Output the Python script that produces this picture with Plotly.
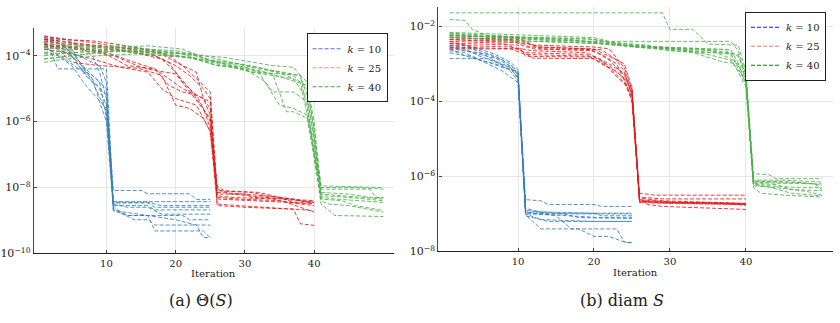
import plotly.graph_objects as go

# ---------------- data: each run = list of [iteration, log10(value)] knots ----------------
# Panel (a): Theta(S)
THETA_K10_PRE = [
    [[1,-3.4],[2,-3.45],[4,-3.5],[6,-3.7],[8,-4.0],[9,-4.5],[10,-5.3]],
    [[1,-3.5],[3,-3.6],[5,-3.9],[7,-4.4],[9,-4.8],[10,-5.9]],
    [[1,-3.6],[2,-3.9],[3,-4.4],[10,-4.4]],
    [[1,-3.7],[3,-3.8],[5,-4.0],[7,-4.6],[9,-5.0],[10,-5.5]],
    [[1,-3.5],[4,-3.7],[6,-4.3],[8,-4.8],[10,-5.7]],
    [[1,-3.8],[2,-3.85],[4,-4.1],[6,-4.4],[8,-4.6],[10,-5.0]],
    [[1,-3.55],[3,-3.7],[6,-4.2],[8,-4.7],[9,-5.4],[10,-6.0]],
    [[1,-3.65],[4,-3.8],[7,-4.1],[9,-4.3],[10,-4.8]],
    [[1,-3.45],[3,-3.55],[5,-3.8],[7,-4.5],[10,-5.2]],
    [[1,-3.9],[3,-4.0],[5,-4.3],[7,-4.9],[10,-5.6]],
]
THETA_K10_TAIL = [
    [[11,-8.09],[15,-8.09],[16,-8.19],[22,-8.19],[23,-8.36],[25,-8.36]],
    [[11,-8.43],[25,-8.43]],
    [[11,-8.47],[16,-8.47],[17,-8.60],[25,-8.60]],
    [[11,-8.55],[16,-8.55],[17,-8.68],[25,-8.68]],
    [[11,-8.5],[13,-8.6],[16,-8.6],[18,-8.81],[25,-8.81]],
    [[11,-8.6],[13,-8.85],[21,-8.85],[22,-8.98],[25,-8.98]],
    [[11,-8.65],[14,-8.98],[16,-8.98],[17,-9.14],[25,-9.14]],
    [[11,-8.7],[13,-8.85],[16,-8.85],[17,-9.32],[24,-9.32],[25,-9.52]],
    [[11,-8.45],[16,-8.45],[18,-8.55],[25,-8.55]],
    [[11,-8.7],[16,-8.85],[20,-8.98],[23,-9.14],[24,-9.52],[25,-9.52]],
]
THETA_K25_PRE = [
    [[1,-3.4],[4,-3.5],[8,-3.6],[12,-3.75],[16,-3.9],[19,-4.2],[21,-4.8],[23,-5.2],[25,-6.0]],
    [[1,-3.5],[3,-3.55],[7,-3.7],[11,-3.8],[15,-3.95],[18,-4.1],[20,-4.5],[22,-5.0],[24,-5.6],[25,-6.2]],
    [[1,-3.6],[3,-3.8],[5,-4.2],[9,-4.3],[13,-4.35],[15,-4.4],[18,-4.6],[20,-5.5],[22,-5.6],[24,-5.9],[25,-6.3]],
    [[1,-3.55],[4,-3.65],[9,-3.7],[13,-3.85],[17,-4.0],[20,-4.3],[22,-4.6],[24,-5.0],[25,-5.3]],
    [[1,-3.7],[5,-3.75],[10,-3.9],[14,-4.2],[17,-4.4],[19,-4.9],[21,-5.1],[23,-5.2],[25,-5.4]],
    [[1,-3.45],[3,-3.5],[8,-3.55],[13,-3.7],[17,-3.85],[19,-4.0],[21,-4.3],[23,-4.7],[24,-4.9],[25,-5.1]],
    [[1,-3.8],[4,-3.9],[8,-4.1],[12,-4.35],[16,-4.5],[18,-5.0],[20,-5.3],[23,-5.5],[25,-6.3]],
    [[1,-3.65],[4,-3.7],[9,-3.85],[13,-4.3],[17,-4.4],[19,-4.7],[21,-5.0],[24,-5.3],[25,-5.8]],
    [[1,-3.5],[5,-3.6],[11,-3.75],[15,-3.8],[18,-3.95],[20,-4.2],[23,-4.5],[24,-5.3],[25,-5.6]],
    [[1,-3.75],[3,-3.7],[7,-3.85],[11,-4.0],[15,-4.35],[17,-4.45],[20,-4.55],[22,-5.1],[25,-5.9]],
]
THETA_K25_TAIL = [
    [[26,-7.95],[27,-8.1],[32,-8.15],[35,-8.3],[40,-8.45]],
    [[26,-8.1],[31,-8.15],[33,-8.25],[37,-8.35],[40,-8.5]],
    [[26,-8.2],[30,-8.2],[31,-8.3],[36,-8.35],[40,-8.4]],
    [[26,-8.25],[28,-8.3],[34,-8.35],[36,-8.45],[40,-8.5]],
    [[26,-8.3],[29,-8.35],[35,-8.4],[38,-8.5],[40,-8.55]],
    [[26,-8.15],[30,-8.2],[35,-8.3],[37,-8.45],[40,-8.45]],
    [[26,-8.5],[29,-8.55],[33,-8.6],[37,-8.65],[40,-8.7]],
    [[26,-8.55],[30,-8.6],[36,-8.65],[37,-8.65],[38,-9.1],[40,-9.15]],
    [[26,-8.35],[32,-8.4],[36,-8.45],[38,-8.6],[40,-8.75]],
    [[26,-8.05],[28,-8.2],[33,-8.3],[38,-8.4],[40,-8.45]],
]
THETA_K40_PRE = [
    [[1,-3.9],[4,-3.85],[8,-3.75],[12,-3.7],[16,-3.8],[20,-3.9],[24,-4.0],[28,-4.2],[32,-4.4],[35,-4.5],[37,-4.6],[39,-5.0],[40,-6.2]],
    [[1,-4.1],[3,-4.05],[7,-3.95],[11,-3.85],[15,-3.85],[19,-3.95],[23,-4.1],[27,-4.25],[31,-4.5],[34,-4.6],[37,-4.7],[39,-5.3],[40,-6.6]],
    [[1,-3.7],[5,-3.7],[9,-3.8],[13,-3.85],[18,-3.95],[22,-4.05],[26,-4.3],[30,-4.35],[32,-4.5],[35,-5.5],[37,-5.6],[39,-5.8],[40,-7.0]],
    [[1,-4.2],[4,-4.1],[9,-4.0],[14,-3.95],[19,-4.0],[24,-4.1],[28,-4.2],[32,-4.35],[36,-4.6],[38,-4.8],[40,-6.8]],
    [[1,-3.8],[3,-3.75],[7,-3.7],[11,-3.75],[16,-3.7],[21,-3.8],[25,-4.15],[29,-4.3],[33,-4.5],[36,-4.7],[39,-4.9],[40,-6.0]],
    [[1,-4.0],[5,-3.9],[10,-3.85],[14,-3.9],[18,-4.0],[22,-4.05],[26,-4.3],[30,-4.4],[33,-4.8],[34,-5.1],[37,-5.1],[39,-5.4],[40,-7.1]],
    [[1,-3.6],[4,-3.65],[8,-3.7],[13,-3.75],[17,-3.85],[21,-3.95],[25,-4.2],[28,-4.35],[31,-4.5],[35,-4.55],[38,-4.6],[39,-4.8],[40,-6.4]],
    [[1,-3.95],[6,-3.9],[11,-3.8],[16,-3.8],[20,-3.85],[24,-4.0],[27,-4.05],[31,-4.2],[34,-4.3],[37,-4.35],[38,-4.6],[39,-5.6],[40,-6.9]],
    [[1,-4.1],[5,-4.0],[9,-3.9],[14,-3.85],[19,-3.9],[23,-4.0],[27,-4.25],[31,-4.45],[34,-4.55],[36,-5.7],[37,-5.7],[39,-5.9],[40,-7.05]],
    [[1,-3.75],[4,-3.8],[8,-3.8],[12,-3.85],[17,-3.9],[22,-3.95],[26,-4.2],[29,-4.25],[33,-4.4],[37,-4.55],[38,-4.6],[39,-5.2],[40,-6.5]],
]
THETA_K40_TAIL = [
    [[41,-7.95],[50,-8.0]],
    [[41,-8.0],[46,-8.0],[50,-8.05]],
    [[41,-8.05],[48,-8.05],[49,-8.3],[50,-8.3]],
    [[41,-8.2],[44,-8.25],[47,-8.3],[50,-8.35]],
    [[41,-8.25],[45,-8.3],[48,-8.35],[50,-8.4]],
    [[41,-8.3],[43,-8.35],[46,-8.4],[50,-8.45]],
    [[41,-8.35],[44,-8.4],[46,-8.55],[50,-8.7]],
    [[41,-8.4],[42,-8.5],[45,-8.55],[50,-8.75]],
    [[41,-8.5],[43,-8.85],[50,-8.88]],
    [[41,-8.15],[45,-8.2],[48,-8.3],[50,-8.3]],
]

# Panel (b): diam S
DIAM_K10_PRE = [
    [[1,-2.45],[3,-2.5],[5,-2.65],[7,-2.8],[9,-3.0],[10,-3.3]],
    [[1,-2.55],[3,-2.6],[5,-2.8],[7,-2.95],[9,-3.1],[10,-3.4]],
    [[1,-2.86],[6,-2.86],[8,-3.0],[9,-3.1],[10,-3.25]],
    [[1,-2.6],[2,-2.7],[4,-2.85],[6,-2.95],[8,-3.1],[10,-3.2]],
    [[1,-2.5],[4,-2.6],[6,-2.8],[8,-3.05],[9,-3.2],[10,-3.45]],
    [[1,-2.65],[3,-2.7],[5,-2.9],[7,-3.0],[9,-3.15],[10,-3.35]],
    [[1,-2.4],[3,-2.5],[5,-2.6],[7,-2.75],[9,-2.95],[10,-3.15]],
    [[1,-2.7],[2,-2.75],[4,-2.8],[6,-3.0],[8,-3.2],[10,-3.5]],
    [[1,-2.55],[4,-2.7],[7,-2.85],[9,-3.05],[10,-3.2]],
    [[1,-2.6],[3,-2.65],[6,-2.75],[8,-2.9],[10,-3.3]],
]
DIAM_K10_TAIL = [
    [[11,-6.62],[13,-6.65],[14,-6.75],[20,-6.75],[21,-6.8],[25,-6.8]],
    [[11,-6.95],[14,-6.95],[15,-6.98],[25,-6.98]],
    [[11,-6.9],[13,-6.95],[20,-6.98],[21,-7.05],[25,-7.05]],
    [[11,-6.98],[16,-7.0],[18,-7.1],[25,-7.12]],
    [[11,-6.85],[12,-6.9],[14,-7.0],[25,-7.0]],
    [[11,-7.0],[13,-7.15],[20,-7.2],[25,-7.2]],
    [[11,-7.05],[12,-7.1],[14,-7.2],[25,-7.2]],
    [[11,-7.02],[13,-7.4],[18,-7.4],[20,-7.6],[22,-7.6],[24,-7.75],[25,-7.78]],
    [[11,-6.95],[15,-7.05],[17,-7.4],[23,-7.4],[24,-7.75],[25,-7.76]],
    [[11,-7.0],[14,-7.02],[21,-7.1],[25,-7.1]],
]
DIAM_K25_PRE = [
    [[1,-2.25],[10,-2.3],[12,-2.5],[20,-2.55],[22,-2.6],[24,-3.1],[25,-3.7]],
    [[1,-2.3],[9,-2.35],[11,-2.55],[19,-2.6],[21,-2.75],[23,-3.0],[25,-3.9]],
    [[1,-2.35],[10,-2.4],[12,-2.6],[20,-2.65],[22,-2.9],[24,-3.3],[25,-3.8]],
    [[1,-2.4],[8,-2.45],[11,-2.7],[19,-2.75],[21,-3.0],[23,-3.2],[25,-3.6]],
    [[1,-2.45],[10,-2.5],[11,-2.8],[20,-2.82],[22,-3.05],[24,-3.4],[25,-4.0]],
    [[1,-2.5],[9,-2.55],[12,-2.65],[19,-2.7],[21,-2.9],[23,-3.35],[25,-3.7]],
    [[1,-2.3],[10,-2.35],[13,-2.6],[21,-2.62],[23,-2.9],[24,-3.2],[25,-3.85]],
    [[1,-2.55],[10,-2.6],[12,-2.85],[20,-2.86],[22,-3.1],[24,-3.5],[25,-3.95]],
    [[1,-2.35],[11,-2.45],[13,-2.55],[20,-2.6],[22,-2.8],[24,-3.0],[25,-3.65]],
    [[1,-2.6],[9,-2.6],[11,-2.75],[20,-2.8],[22,-3.0],[24,-3.25],[25,-3.75]],
]
DIAM_K25_TAIL = [
    [[26,-6.45],[28,-6.5],[40,-6.5]],
    [[26,-6.55],[29,-6.6],[40,-6.6]],
    [[26,-6.62],[30,-6.68],[40,-6.72]],
    [[26,-6.65],[28,-6.7],[35,-6.72],[40,-6.75]],
    [[26,-6.6],[27,-6.75],[29,-6.8],[40,-6.88]],
    [[26,-6.68],[32,-6.7],[38,-6.72],[40,-6.78]],
    [[26,-6.7],[30,-6.72],[40,-6.75]],
    [[26,-6.58],[29,-6.65],[36,-6.7],[40,-6.72]],
    [[26,-6.66],[31,-6.7],[40,-6.73]],
    [[26,-6.64],[29,-6.68],[34,-6.7],[40,-6.74]],
]
DIAM_K40_PRE = [
    [[1,-1.64],[29,-1.64],[30,-2.08],[33,-2.08],[35,-2.47],[39,-2.5],[40,-3.2]],
    [[1,-1.82],[3,-1.84],[4,-2.08],[6,-2.25],[12,-2.3],[20,-2.35],[24,-2.5],[30,-2.6],[36,-2.65],[39,-2.75],[40,-3.4]],
    [[1,-2.16],[6,-2.2],[14,-2.25],[20,-2.3],[22,-2.4],[30,-2.4],[38,-2.4],[39,-2.65],[40,-3.3]],
    [[1,-2.2],[5,-2.25],[11,-2.3],[19,-2.32],[23,-2.45],[28,-2.55],[34,-2.6],[38,-2.75],[40,-3.5]],
    [[1,-2.25],[8,-2.28],[15,-2.35],[21,-2.42],[25,-2.55],[31,-2.62],[36,-2.7],[38,-2.85],[40,-3.6]],
    [[1,-2.22],[7,-2.3],[13,-2.35],[18,-2.4],[24,-2.5],[29,-2.55],[35,-2.75],[38,-2.9],[40,-3.45]],
    [[1,-2.28],[6,-2.35],[12,-2.4],[20,-2.45],[26,-2.55],[32,-2.6],[37,-2.62],[39,-2.8],[40,-3.25]],
    [[1,-2.3],[9,-2.38],[16,-2.42],[22,-2.48],[27,-2.58],[33,-2.7],[37,-2.95],[39,-3.0],[40,-3.55]],
    [[1,-2.18],[4,-2.22],[10,-2.28],[17,-2.35],[23,-2.5],[29,-2.55],[34,-2.58],[38,-2.62],[40,-3.35]],
    [[1,-2.24],[8,-2.3],[14,-2.38],[21,-2.4],[27,-2.5],[30,-2.65],[35,-2.7],[38,-2.72],[40,-3.4]],
]
DIAM_K40_TAIL = [
    [[41,-5.93],[43,-5.95],[44,-6.06],[50,-6.06]],
    [[41,-6.1],[45,-6.1],[48,-6.12],[50,-6.15]],
    [[41,-6.15],[44,-6.18],[50,-6.2]],
    [[41,-6.12],[46,-6.15],[49,-6.2],[50,-6.35]],
    [[41,-6.2],[43,-6.25],[47,-6.3],[50,-6.3]],
    [[41,-6.3],[42,-6.45],[45,-6.5],[50,-6.55]],
    [[41,-6.18],[44,-6.22],[46,-6.35],[50,-6.38]],
    [[41,-6.25],[44,-6.3],[48,-6.4],[50,-6.5]],
    [[41,-6.14],[47,-6.16],[49,-6.2],[50,-6.25]],
    [[41,-6.22],[43,-6.28],[46,-6.45],[50,-6.52]],
]

K_LABELS = ["<i>k</i> = 10", "<i>k</i> = 25", "<i>k</i> = 40"]
X_TICKS = [10, 20, 30, 40]
THETA_Y_TICKS = [-10, -8, -6, -4]
DIAM_Y_TICKS = [-8, -6, -4, -2]
CAPTIONS = ["(a) Θ(<i>S</i>)", "(b) diam <i>S</i>"]

LINE_COLORS = ["rgba(55,126,184,0.85)", "rgba(228,26,28,0.85)", "rgba(77,175,74,0.85)"]
LEG_COLORS_A = ["rgba(60,60,255,0.8)", "rgba(255,60,60,0.6)", "rgba(30,140,30,0.8)"]
LEG_COLORS_B = ["rgb(20,20,255)", "rgba(255,50,50,0.7)", "rgb(0,128,0)"]
SERIF = "DejaVu Serif"

panels = [
    [(THETA_K10_PRE, THETA_K10_TAIL), (THETA_K25_PRE, THETA_K25_TAIL), (THETA_K40_PRE, THETA_K40_TAIL)],
    [(DIAM_K10_PRE, DIAM_K10_TAIL), (DIAM_K25_PRE, DIAM_K25_TAIL), (DIAM_K40_PRE, DIAM_K40_TAIL)],
]

fig = go.Figure()
for pi, groups in enumerate(panels):
    xa = "x" if pi == 0 else "x2"
    ya = "y" if pi == 0 else "y2"
    leg = "legend" if pi == 0 else "legend2"
    for gi, (pre, tail) in enumerate(groups):
        xs, ys = [], []
        for a, b in zip(pre, tail):
            run = a + b
            xs += [p[0] for p in run] + [None]
            ys += [10 ** p[1] for p in run] + [None]
        fig.add_trace(go.Scatter(x=xs, y=ys, mode="lines", xaxis=xa, yaxis=ya,
                                 line=dict(color=LINE_COLORS[gi], width=1, dash="4px,2px"),
                                 showlegend=False, hoverinfo="skip"))
    legc = LEG_COLORS_A if pi == 0 else LEG_COLORS_B
    for gi in range(3):
        fig.add_trace(go.Scatter(x=[None], y=[None], mode="lines", xaxis=xa, yaxis=ya,
                                 name=K_LABELS[gi], legend=leg,
                                 line=dict(color=legc[gi], width=1, dash="4px,2px")))

W, H = 840, 323
def xdom(a, b): return [a / W, b / W]
def ydom(top, bot): return [1 - bot / H, 1 - top / H]

def sup(e):
    return "10<sup>−%d</sup>" % (-e)

common_x = dict(range=[-0.47, 51.47], tickvals=X_TICKS, ticktext=[str(v) for v in X_TICKS],
                showgrid=True, gridcolor="#e6e6e6", gridwidth=1, zeroline=False,
                showline=True, linecolor="#222", linewidth=1.3, ticks="inside", ticklen=3,
                tickcolor="#444", tickfont=dict(family=SERIF, size=10, color="#222"))
common_y = dict(type="log", showgrid=True, gridcolor="#e6e6e6", gridwidth=1, zeroline=False,
                showline=True, linecolor="#444", linewidth=1.3, ticks="inside", ticklen=3,
                tickcolor="#444", tickfont=dict(family=SERIF, size=11, color="#222"))

fig.update_layout(
    width=W, height=H, margin=dict(l=0, r=0, t=0, b=0),
    paper_bgcolor="white", plot_bgcolor="white",
    xaxis=dict(domain=xdom(33, 393), anchor="y", **common_x),
    yaxis=dict(domain=ydom(29, 259), anchor="x", range=[-10, -3.17],
               tickvals=[10 ** e for e in THETA_Y_TICKS], ticktext=[sup(e) for e in THETA_Y_TICKS], **common_y),
    xaxis2=dict(domain=xdom(438, 833), anchor="y2", **common_x),
    yaxis2=dict(domain=ydom(7, 257), anchor="x2", range=[-8, -1.48],
                tickvals=[10 ** e for e in DIAM_Y_TICKS], ticktext=[sup(e) for e in DIAM_Y_TICKS], **common_y),
    legend=dict(x=387 / W, y=1 - 34 / H, xanchor="right", yanchor="top", bgcolor="white",
                bordercolor="#222", borderwidth=1, font=dict(family=SERIF, size=10, color="#222"),
                tracegroupgap=0, itemwidth=30),
    legend2=dict(x=826 / W, y=1 - 12 / H, xanchor="right", yanchor="top", bgcolor="white",
                 bordercolor="#222", borderwidth=1, font=dict(family=SERIF, size=10, color="#222"),
                 tracegroupgap=0, itemwidth=30),
    font=dict(family=SERIF),
)

annos = [
    dict(x=213 / W, y=1 - 280 / H, text="Iteration", size=10),
    dict(x=635 / W, y=1 - 279 / H, text="Iteration", size=10),
    dict(x=200 / W, y=1 - 307 / H, text=CAPTIONS[0], size=16),
    dict(x=622 / W, y=1 - 307 / H, text=CAPTIONS[1], size=16),
]
for a in annos:
    fig.add_annotation(x=a["x"], y=a["y"], xref="paper", yref="paper", text=a["text"],
                       showarrow=False, xanchor="center", yanchor="middle",
                       font=dict(family=SERIF, size=a["size"], color="#222"))

fig.write_html("out.html")
